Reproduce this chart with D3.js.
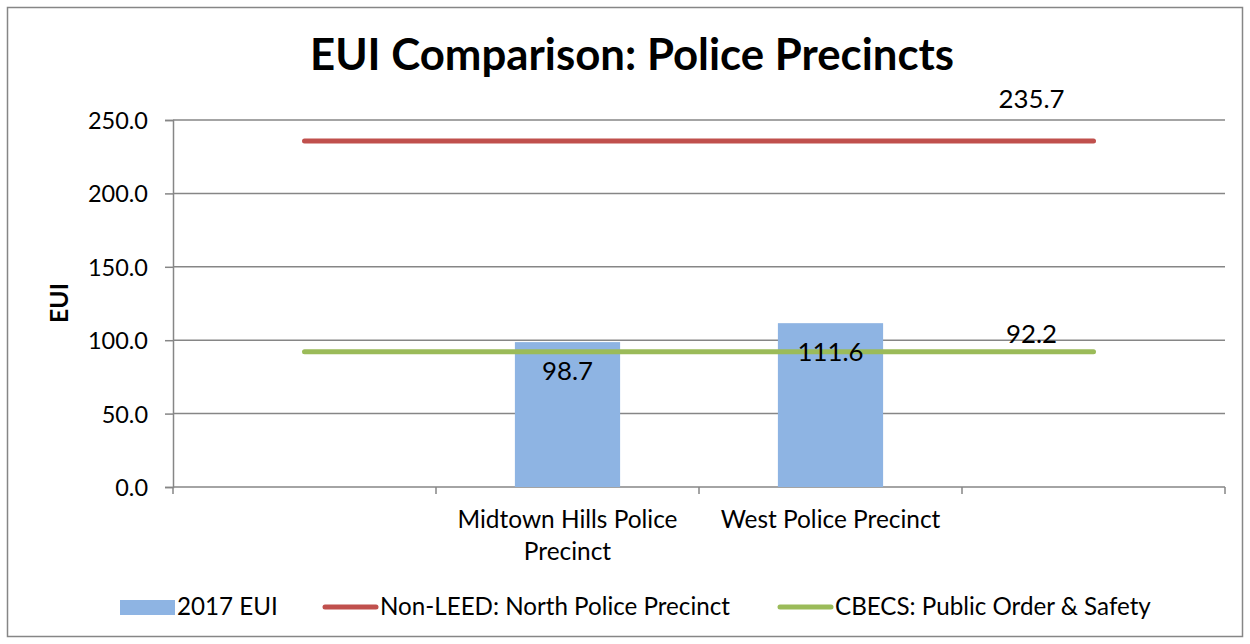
<!DOCTYPE html>
<html><head><meta charset="utf-8">
<script src="https://cdn.jsdelivr.net/npm/d3@7"></script>
<style>body{margin:0;background:#fff}svg{display:block}text{font-family:Lato,"Open Sans",sans-serif;fill:#000}</style>
</head><body>
<svg id="c" width="1250" height="644"></svg>
<script>
const categories = ["", "Midtown Hills Police Precinct", "West Police Precinct", ""];
const barValues = [null, 98.7, 111.6, null];
const nonLeedValues = [235.7, 235.7, 235.7, 235.7];
const cbecsValues = [92.2, 92.2, 92.2, 92.2];
const yTicks = [0, 50, 100, 150, 200, 250];
const seriesNames = ["2017 EUI", "Non-LEED: North Police Precinct", "CBECS: Public Order & Safety"];
const colors = ["#8EB4E3", "#C0504D", "#9BBB59"];

const svg = d3.select("#c");
const L = 173, R = 1225, T = 120, B = 487;
const x = d3.scaleBand().domain(d3.range(categories.length)).range([L, R]).paddingInner(0).paddingOuter(0);
const xb = x.copy().paddingInner(0.6).paddingOuter(0.3);
const y = d3.scaleLinear().domain([0, 250]).range([B, T]);
const grey = "#868686";

function fitGroup(sel, refNode, w) {
  const cur = refNode.getComputedTextLength();
  const fs = parseFloat(d3.select(refNode).attr("font-size"));
  sel.attr("font-size", (fs * w / cur).toFixed(2));
}

svg.append("rect").attr("x", 7.5).attr("y", 7.5).attr("width", 1235).attr("height", 629)
  .attr("fill", "#fff").attr("stroke", grey).attr("stroke-width", 1.5);

// gridlines
svg.append("g").selectAll("line").data(yTicks.filter(d => d > 0)).join("line")
  .attr("x1", L).attr("x2", R).attr("y1", d => y(d)).attr("y2", d => y(d))
  .attr("stroke", grey).attr("stroke-width", 1.5);

// y axis
const yAxis = svg.append("g").attr("transform", `translate(${L},0)`)
  .call(d3.axisLeft(y).tickValues(yTicks).tickFormat(d3.format(".1f")).tickSize(8).tickPadding(17));
yAxis.select(".domain").attr("stroke", grey).attr("stroke-width", 1.5);
yAxis.selectAll(".tick line").attr("stroke", grey).attr("stroke-width", 1.5);
const tickTexts = yAxis.selectAll(".tick text").attr("font-size", 20).attr("font-family", "Lato").attr("fill", "#000").attr("dy", "0.36em");
fitGroup(tickTexts, tickTexts.filter(d => d === 250).node(), 60);

// x axis
const xAxis = svg.append("g").attr("transform", `translate(0,${B})`);
xAxis.append("line").attr("x1", L).attr("x2", R).attr("stroke", grey).attr("stroke-width", 1.5);
xAxis.selectAll("line.t").data(d3.range(categories.length + 1)).join("line").attr("class", "t")
  .attr("x1", i => L + i * x.bandwidth()).attr("x2", i => L + i * x.bandwidth())
  .attr("y1", 0).attr("y2", 7).attr("stroke", grey).attr("stroke-width", 1.5);

// bars
svg.append("g").selectAll("rect").data(barValues.map((v, i) => ({v, i})).filter(d => d.v != null)).join("rect")
  .attr("x", d => xb(d.i)).attr("width", xb.bandwidth())
  .attr("y", d => y(d.v)).attr("height", d => B - y(d.v)).attr("fill", colors[0]);

// lines
const line = d3.line().x((d, i) => x(i) + x.bandwidth() / 2).y(d => y(d));
[nonLeedValues, cbecsValues].forEach((vals, k) => {
  svg.append("path").datum(vals).attr("d", line).attr("fill", "none")
    .attr("stroke", colors[k + 1]).attr("stroke-width", 5).attr("stroke-linecap", "round");
});

// data labels
const dl = svg.append("g");
dl.selectAll("text.b").data(barValues.map((v, i) => ({v, i})).filter(d => d.v != null)).join("text").attr("class", "b")
  .attr("x", d => xb(d.i) + xb.bandwidth() / 2).attr("y", d => y(d.v) + 38)
  .attr("text-anchor", "middle").attr("font-size", 20).text(d => d.v.toFixed(1));
const last = categories.length - 1;
[[nonLeedValues, -33], [cbecsValues, -9]].forEach(([vals, off]) => {
  dl.append("text").attr("class", "l").attr("x", x(last) + x.bandwidth() / 2 - 62).attr("y", y(vals[last]) + off)
    .attr("text-anchor", "middle").attr("font-size", 20).text(vals[last].toFixed(1));
});
fitGroup(dl.selectAll("text"), dl.select("text.l").node(), 66);

// category labels
const catLines = {1: ["Midtown Hills Police", "Precinct"], 2: ["West Police Precinct"]};
const cg = svg.append("g");
categories.forEach((c, i) => {
  if (!c) return;
  (catLines[i] || [c]).forEach((ln, j) => {
    cg.append("text").attr("text-anchor", "middle").attr("font-size", 20)
      .attr("x", x(i) + x.bandwidth() / 2).attr("y", 528 + j * 32).text(ln);
  });
});
fitGroup(cg.selectAll("text"), cg.select("text").node(), 220);

// title
const title = svg.append("text").attr("x", 632).attr("y", 70).attr("text-anchor", "middle")
  .attr("font-size", 34).attr("font-weight", "bold").text("EUI Comparison: Police Precincts");
fitGroup(title, title.node(), 644);

// y title
const yt = svg.append("text").attr("transform", "translate(68,303) rotate(-90)").attr("text-anchor", "middle")
  .attr("font-size", 24).attr("font-weight", "bold").text("EUI");
fitGroup(yt, yt.node(), 40);

// legend
const leg = svg.append("g");
const legX = [120, 323, 778];
seriesNames.forEach((n, k) => {
  if (k === 0) leg.append("rect").attr("x", legX[k]).attr("y", 600).attr("width", 55).attr("height", 15).attr("fill", colors[0]);
  else leg.append("line").attr("x1", legX[k] + 2).attr("x2", legX[k] + 53).attr("y1", 607).attr("y2", 607)
    .attr("stroke", colors[k]).attr("stroke-width", 5).attr("stroke-linecap", "round");
  leg.append("text").attr("class", "lt" + k).attr("x", legX[k] + 57).attr("y", 615).attr("font-size", 19).text(n);
});
fitGroup(leg.selectAll("text"), leg.select("text.lt1").node(), 350);
</script>
</body></html>
